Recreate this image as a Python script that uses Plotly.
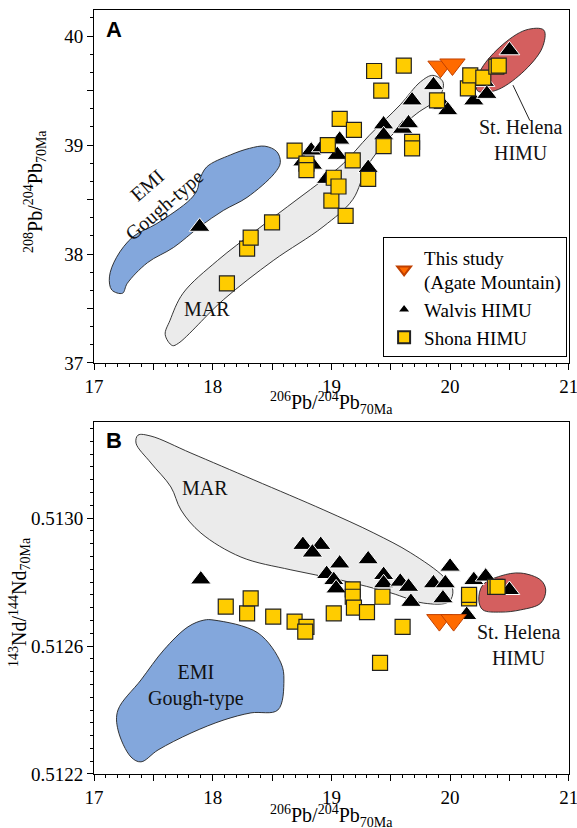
import plotly.graph_objects as go

# ---------------- Panel A data (206Pb/204Pb vs 208Pb/204Pb) ----------------
shona_a_x = [18.12, 18.29, 18.32, 18.50, 18.69, 18.79, 18.79, 18.97, 19.00, 19.02, 19.06, 19.07,
             19.12, 19.18, 19.19, 19.31, 19.36, 19.42, 19.44, 19.61, 19.68, 19.68, 19.89, 20.15,
             20.17, 20.28, 20.39, 20.41]
shona_a_y = [37.73, 38.05, 38.15, 38.29, 38.95, 38.83, 38.77, 39.00, 38.49, 38.70, 38.62, 39.24,
             38.35, 38.86, 39.14, 38.69, 39.68, 39.50, 38.99, 39.73, 39.03, 38.97, 39.41, 39.52,
             39.64, 39.62, 39.72, 39.73]
walvis_a_x = [17.89, 18.76, 18.83, 18.84, 18.92, 18.96, 19.05, 19.07, 19.31, 19.44, 19.44, 19.60,
              19.65, 19.68, 19.86, 19.94, 19.98, 20.20, 20.29, 20.31, 20.50]
walvis_a_y = [38.25, 38.85, 38.95, 38.82, 38.98, 38.69, 38.91, 39.05, 38.79, 39.19, 39.09, 39.15,
              39.20, 39.41, 39.55, 39.37, 39.32, 39.41, 39.58, 39.47, 39.87]
agate_a_x = [19.92, 20.02]
agate_a_y = [39.72, 39.74]

# field outlines, panel A
emi_a_x = [18.44, 18.54, 18.57, 18.52, 18.29, 18.09, 17.89, 17.67, 17.45, 17.28, 17.24, 17.15,
           17.13, 17.19, 17.33, 17.53, 17.81, 17.87, 17.89, 17.95, 18.15, 18.31]
emi_a_y = [38.99, 38.94, 38.84, 38.74, 38.52, 38.40, 38.25, 38.06, 37.92, 37.73, 37.64, 37.67,
           37.79, 37.97, 38.16, 38.28, 38.50, 38.59, 38.68, 38.80, 38.91, 38.97]
mar_a_x = [19.855, 19.94, 19.91, 19.72, 19.49, 19.30, 19.18, 18.93, 18.51, 18.09, 17.71, 17.66,
           17.60, 17.64, 17.75, 18.04, 18.37, 18.71, 18.93, 19.10, 19.32, 19.58, 19.75]
mar_a_y = [39.64, 39.58, 39.44, 39.29, 39.07, 38.80, 38.50, 38.25, 37.94, 37.58, 37.18, 37.16,
           37.26, 37.39, 37.64, 37.94, 38.22, 38.50, 38.68, 38.83, 39.09, 39.37, 39.58]
sth_a_x = [20.79, 20.777, 20.604, 20.38, 20.23, 20.25, 20.42, 20.64]
sth_a_y = [40.055, 39.894, 39.66, 39.50, 39.50, 39.67, 39.90, 40.057]
leader_a_x = [20.53, 20.67]
leader_a_y = [39.55, 39.23]

# ---------------- Panel B data (206Pb/204Pb vs 143Nd/144Nd) ----------------
shona_b_x = [18.11, 18.29, 18.32, 18.51, 18.69, 18.79, 18.78, 19.02, 19.18, 19.18, 19.19, 19.30,
             19.41, 19.43, 19.60, 20.16, 20.16, 20.38, 20.40]
shona_b_y = [0.512723, 0.512702, 0.512749, 0.512692, 0.512676, 0.512660, 0.512645, 0.512702,
             0.512777, 0.512754, 0.512720, 0.512706, 0.512547, 0.512754, 0.512660, 0.512749,
             0.512760, 0.512785, 0.512785]
walvis_b_x = [17.90, 18.76, 18.91, 18.84, 19.07, 19.31, 18.96, 19.02, 19.04, 19.44, 19.44, 19.58,
              19.65, 19.67, 19.86, 19.96, 20.00, 19.94, 20.14, 20.20, 20.30, 20.50]
walvis_b_y = [0.512808, 0.512916, 0.512916, 0.512892, 0.512858, 0.512871, 0.512825, 0.512806,
              0.512780, 0.512822, 0.512796, 0.512801, 0.512785, 0.512738, 0.512796, 0.512796,
              0.512848, 0.512749, 0.512697, 0.512806, 0.512817, 0.512775]
agate_b_x = [19.91, 20.03]
agate_b_y = [0.512681, 0.512681]

mar_b_x = [17.371, 17.48, 17.817, 18.347, 18.937, 19.358, 19.669, 19.947, 20.023, 19.989, 19.779,
           19.501, 19.08, 18.659, 18.238, 17.901, 17.733, 17.648, 17.48, 17.354]
mar_b_y = [0.513259, 0.513256, 0.513203, 0.513119, 0.513025, 0.512953, 0.512891, 0.512816,
           0.512775, 0.512738, 0.512734, 0.512766, 0.512806, 0.512838, 0.512878, 0.512953,
           0.513025, 0.513097, 0.513172, 0.513234]
emi_b_x = [18.011, 18.381, 18.575, 18.60, 18.549, 18.322, 18.095, 17.817, 17.539, 17.396, 17.312,
           17.202, 17.202, 17.396, 17.589, 17.792, 17.926]
emi_b_y = [0.512681, 0.512641, 0.512547, 0.512494, 0.512400, 0.512391, 0.512369, 0.512328,
           0.512275, 0.512238, 0.512253, 0.512338, 0.512400, 0.512494, 0.512588, 0.512660,
           0.512681]
sth_b_x = [20.242, 20.276, 20.427, 20.596, 20.764, 20.806, 20.764, 20.596, 20.427, 20.276]
sth_b_y = [0.512744, 0.512791, 0.512819, 0.512828, 0.512806, 0.512775, 0.512734, 0.512713,
           0.512706, 0.512713]

# axis ticks
x_tickvals = [17, 17.5, 18, 18.5, 19, 19.5, 20, 20.5, 21]
x_ticktext = ["17", "", "18", "", "19", "", "20", "", "21"]
ya_tickvals = [37, 37.5, 38, 38.5, 39, 39.5, 40]
ya_ticktext = ["37", "", "38", "", "39", "", "40"]
yb_tickvals = [0.5122, 0.5126, 0.5130]
yb_ticktext = ["0.5122", "0.5126", "0.5130"]

SERIF = "Liberation Serif"
BLUE = "#83a7dc"
GREY = "#ebebeb"
RED = "#d45f5f"
YELLOW = "#ffcc00"
ORANGE = "#ff6a00"

fig = go.Figure()


def add_field(xs, ys, color, xa, ya):
    fig.add_trace(go.Scatter(x=xs + xs[:1], y=ys + ys[:1], mode="lines", fill="toself",
                             fillcolor=color, line=dict(color="#222", width=0.9, shape="spline", smoothing=1.0),
                             hoverinfo="skip", showlegend=False, xaxis=xa, yaxis=ya))


add_field(emi_a_x, emi_a_y, BLUE, "x", "y")
add_field(mar_a_x, mar_a_y, GREY, "x", "y")
add_field(sth_a_x, sth_a_y, RED, "x", "y")
fig.add_trace(go.Scatter(x=leader_a_x, y=leader_a_y, mode="lines", line=dict(color="#222", width=1),
                         showlegend=False, hoverinfo="skip", xaxis="x", yaxis="y"))

add_field(mar_b_x, mar_b_y, GREY, "x2", "y2")
add_field(emi_b_x, emi_b_y, BLUE, "x2", "y2")
add_field(sth_b_x, sth_b_y, RED, "x2", "y2")

tri = dict(symbol="triangle-up", size=18, color="black", line=dict(color="white", width=1))
sq = dict(symbol="square", size=15, color=YELLOW, line=dict(color="#222", width=1.2))
inv = dict(symbol="triangle-down", size=22, color=ORANGE, line=dict(color="#c04000", width=1))

fig.add_trace(go.Scatter(x=walvis_a_x, y=walvis_a_y, mode="markers", marker=tri, name="Walvis HIMU",
                         legendrank=2, xaxis="x", yaxis="y"))
fig.add_trace(go.Scatter(x=shona_a_x, y=shona_a_y, mode="markers", marker=sq, name="Shona HIMU",
                         legendrank=3, xaxis="x", yaxis="y"))
fig.add_trace(go.Scatter(x=agate_a_x, y=agate_a_y, mode="markers", marker=inv,
                         name="This study<br>(Agate Mountain)", legendrank=1, xaxis="x", yaxis="y"))

fig.add_trace(go.Scatter(x=walvis_b_x, y=walvis_b_y, mode="markers", marker=tri, showlegend=False,
                         xaxis="x2", yaxis="y2"))
fig.add_trace(go.Scatter(x=shona_b_x, y=shona_b_y, mode="markers", marker=sq, showlegend=False,
                         xaxis="x2", yaxis="y2"))
fig.add_trace(go.Scatter(x=agate_b_x, y=agate_b_y, mode="markers", marker=inv, showlegend=False,
                         xaxis="x2", yaxis="y2"))

tickfont = dict(family=SERIF, size=19, color="black")
common = dict(showline=True, linecolor="black", linewidth=1, mirror=True, ticks="outside",
              ticklen=6, tickwidth=1, tickcolor="black", showgrid=False, zeroline=False,
              tickfont=tickfont, automargin=False, ticklabeloverflow="allow")
xminor = dict(ticks="outside", ticklen=3, tickmode="linear", tick0=17, dtick=0.1, tickcolor="black")

fig.update_layout(
    width=577, height=828,
    margin=dict(l=94, r=8, t=10, b=54, autoexpand=False),
    paper_bgcolor="white", plot_bgcolor="white",
    font=dict(family=SERIF, size=19, color="black"),
    showlegend=True,
    legend=dict(x=0.996, y=0.5455, xanchor="right", yanchor="bottom", bgcolor="white",
                bordercolor="black", borderwidth=1, font=dict(family=SERIF, size=19),
                tracegroupgap=0, itemsizing="constant"),
    xaxis=dict(domain=[0, 1], range=[17, 21.002], anchor="y", tickmode="array",
               tickvals=x_tickvals, ticktext=x_ticktext, minor=xminor, **common),
    yaxis=dict(domain=[0.538, 1], range=[37, 40.24], anchor="x", tickmode="array",
               tickvals=ya_tickvals, ticktext=ya_ticktext,
               minor=dict(ticks="outside", ticklen=3, tickmode="linear", tick0=37, dtick=1 / 6,
                          tickcolor="black"), **common),
    xaxis2=dict(domain=[0, 1], range=[17, 21.002], anchor="y2", tickmode="array",
                tickvals=x_tickvals, ticktext=x_ticktext, minor=xminor, **common),
    yaxis2=dict(domain=[0, 0.4607], range=[0.5122, 0.5133], anchor="x2", tickmode="array",
                tickvals=yb_tickvals, ticktext=yb_ticktext,
                minor=dict(ticks="outside", ticklen=3, tickmode="linear", tick0=0.5122,
                           dtick=0.00004, tickcolor="black"), **common),
)

ann_font = dict(family=SERIF, size=20, color="#111")
title_font = dict(family=SERIF, size=20, color="black")
xtitle = "<sup>206</sup>Pb/<sup>204</sup>Pb<sub>70Ma</sub>"
C = dict(xanchor="center", yanchor="middle", showarrow=False)
annotations = [
    dict(text="<b>A</b>", x=0.021, y=0.994, xref="paper", yref="paper", xanchor="left", yanchor="top",
         showarrow=False, font=dict(family="Liberation Sans", size=22, color="black")),
    dict(text="<b>B</b>", x=0.021, y=0.455, xref="paper", yref="paper", xanchor="left", yanchor="top",
         showarrow=False, font=dict(family="Liberation Sans", size=22, color="black")),
    # axis titles
    dict(text=xtitle, x=0.5, y=0.4855, xref="paper", yref="paper", font=title_font, **C),
    dict(text=xtitle, x=0.5, y=-0.0547, xref="paper", yref="paper", font=title_font, **C),
    dict(text="<sup>208</sup>Pb/<sup>204</sup>Pb<sub>70Ma</sub>", x=-0.124, y=0.762, xref="paper",
         yref="paper", textangle=-90, font=title_font, **C),
    dict(text="<sup>143</sup>Nd/<sup>144</sup>Nd<sub>70Ma</sub>", x=-0.156, y=0.225, xref="paper",
         yref="paper", textangle=-90, font=title_font, **C),
    # field labels
    dict(text="EMI<br>Gough-type", x=17.52, y=38.54, xref="x", yref="y", textangle=-41,
         font=ann_font, **C),
    dict(text="MAR", x=17.95, y=37.50, xref="x", yref="y", font=ann_font, **C),
    dict(text="St. Helena<br>HIMU", x=20.59, y=39.05, xref="x", yref="y", font=ann_font, **C),
    dict(text="MAR", x=17.935, y=0.513094, xref="x2", yref="y2", font=ann_font, **C),
    dict(text="EMI<br>Gough-type", x=17.86, y=0.512478, xref="x2", yref="y2", font=ann_font, **C),
    dict(text="St. Helena<br>HIMU", x=20.58, y=0.512603, xref="x2", yref="y2", font=ann_font, **C),
]
fig.update_layout(annotations=annotations)

fig.write_html("out.html", config={"displayModeBar": False},
               post_script="document.body.style.margin='0px';")
